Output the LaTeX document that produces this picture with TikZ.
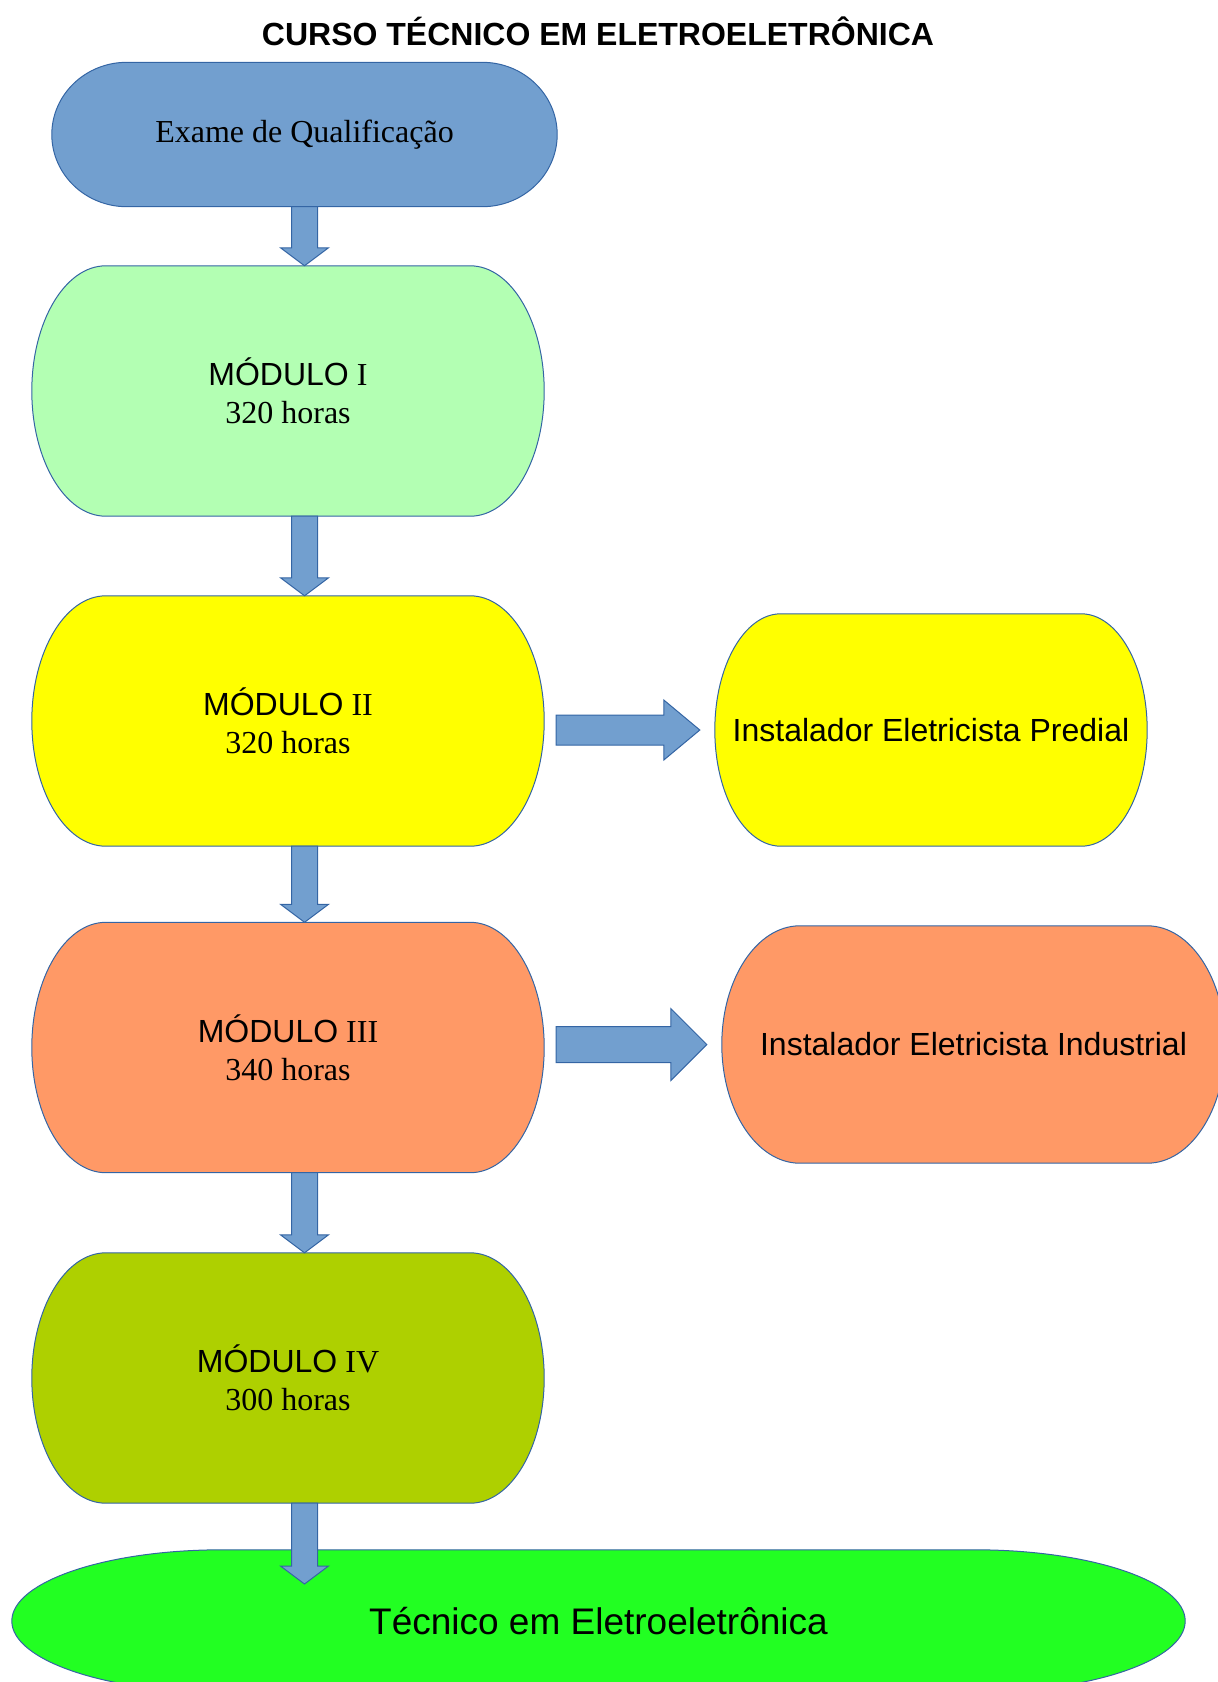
\documentclass[tikz,border=0pt]{standalone}
\usepackage{fontspec}
\setmainfont{Liberation Serif}
\setsansfont{Liberation Sans}
\usetikzlibrary{calc,backgrounds}

\definecolor{borda}{HTML}{3465A4}
\definecolor{azul}{HTML}{729FCF}
\definecolor{verdeclaro}{HTML}{B3FFB3}
\definecolor{amarelo}{HTML}{FFFF00}
\definecolor{salmao}{HTML}{FF9966}
\definecolor{oliva}{HTML}{AED000}
\definecolor{verde}{HTML}{22FF22}

\tikzset{
  caixa/.style={rectangle, inner sep=0pt, align=center, font=\fontsize{32}{38}\selectfont},
  rotulo/.style={caixa, font=\fontsize{32}{38}\selectfont\sffamily},
  modulo/.style={caixa, minimum width=512pt, minimum height=250pt},
  seta/.style={fill=azul, draw=borda, line width=1pt, line join=miter},
}

% terminador: no, raio horizontal das pontas, cor
\newcommand\termo[3]{%
  \filldraw[fill=#3, draw=borda, line width=1pt]
    ([xshift=#2]#1.north west) -- ([xshift=-#2]#1.north east)
    .. controls ([xshift=-0.448*#2]#1.north east) and ($(#1.east)!0.552!(#1.north east)$) .. (#1.east)
    .. controls ($(#1.east)!0.552!(#1.south east)$) and ([xshift=-0.448*#2]#1.south east) .. ([xshift=-#2]#1.south east)
    -- ([xshift=#2]#1.south west)
    .. controls ([xshift=0.448*#2]#1.south west) and ($(#1.west)!0.552!(#1.south west)$) .. (#1.west)
    .. controls ($(#1.west)!0.552!(#1.north west)$) and ([xshift=0.448*#2]#1.north west) .. ([xshift=#2]#1.north west)
    -- cycle;}
\newcommand\setabaixo[2]{%
  \draw[seta] ($(#1)+(-13,0)$) -- ($(#2)+(-13,-18)$) -- ($(#2)+(-24,-18)$) -- (#2)
    -- ($(#2)+(24,-18)$) -- ($(#2)+(13,-18)$) -- ($(#1)+(13,0)$) -- cycle;}
% de, para, meia haste, meia ponta
\newcommand\setadireita[4]{%
  \draw[seta] ($(#1.east |- #2.west)+(12,-#3)$) -- ($(#2.west)+(-51,-#3)$) -- ($(#2.west)+(-51,-#4)$)
    -- ($(#2.west)+(-15,0)$) -- ($(#2.west)+(-51,#4)$) -- ($(#2.west)+(-51,#3)$)
    -- ($(#1.east |- #2.west)+(12,#3)$) -- cycle;}

\begin{document}
\begin{tikzpicture}[x=1pt, y=-1pt]
  \useasboundingbox (0,0) rectangle (1218,1682);

  \node[caixa, anchor=base, font=\fontsize{32}{38}\selectfont\sffamily\bfseries] (titulo) at (598,45) {CURSO TÉCNICO EM ELETROELETRÔNICA};

  \node[caixa, minimum width=505pt, minimum height=144pt] (ex) at (304.5,134.5) {Exame de Qualificação};
  \node[modulo] (m1) at (288,391) {{\sffamily MÓDULO} I\\320 horas};
  \node[modulo] (m2) at (288,721) {{\sffamily MÓDULO} II\\320 horas};
  \node[modulo] (m3) at (288,1047.5) {{\sffamily MÓDULO} III\\340 horas};
  \node[modulo] (m4) at (288,1378) {{\sffamily MÓDULO} IV\\300 horas};

  \node[rotulo, minimum width=432pt, minimum height=232pt] (pr) at (931,730) {Instalador Eletricista Predial};
  \node[rotulo, minimum width=503pt, minimum height=237pt] (in) at (973.5,1044.5) {Instalador Eletricista Industrial};

  \node[caixa, minimum width=1173pt, minimum height=142pt, font=\fontsize{37}{44}\selectfont\sffamily] (fim) at (598.5,1621) {Técnico em Eletroeletrônica};
  \coordinate (ponta) at (304.5,1584);

  \begin{scope}[on background layer]
    \termo{ex}{75}{azul}
    \termo{m1}{74}{verdeclaro}
    \termo{m2}{74}{amarelo}
    \termo{m3}{74}{salmao}
    \termo{m4}{74}{oliva}
    \termo{pr}{66}{amarelo}
    \termo{in}{78}{salmao}
    \termo{fim}{210}{verde}
  \end{scope}

  \setabaixo{ex.south}{m1.north -| ex.south}
  \setabaixo{m1.south -| ex.south}{m2.north -| ex.south}
  \setabaixo{m2.south -| ex.south}{m3.north -| ex.south}
  \setabaixo{m3.south -| ex.south}{m4.north -| ex.south}
  \setabaixo{m4.south -| ex.south}{ponta}

  \setadireita{m2}{pr}{15}{30}
  \setadireita{m3}{in}{18}{36}
\end{tikzpicture}
\end{document}
